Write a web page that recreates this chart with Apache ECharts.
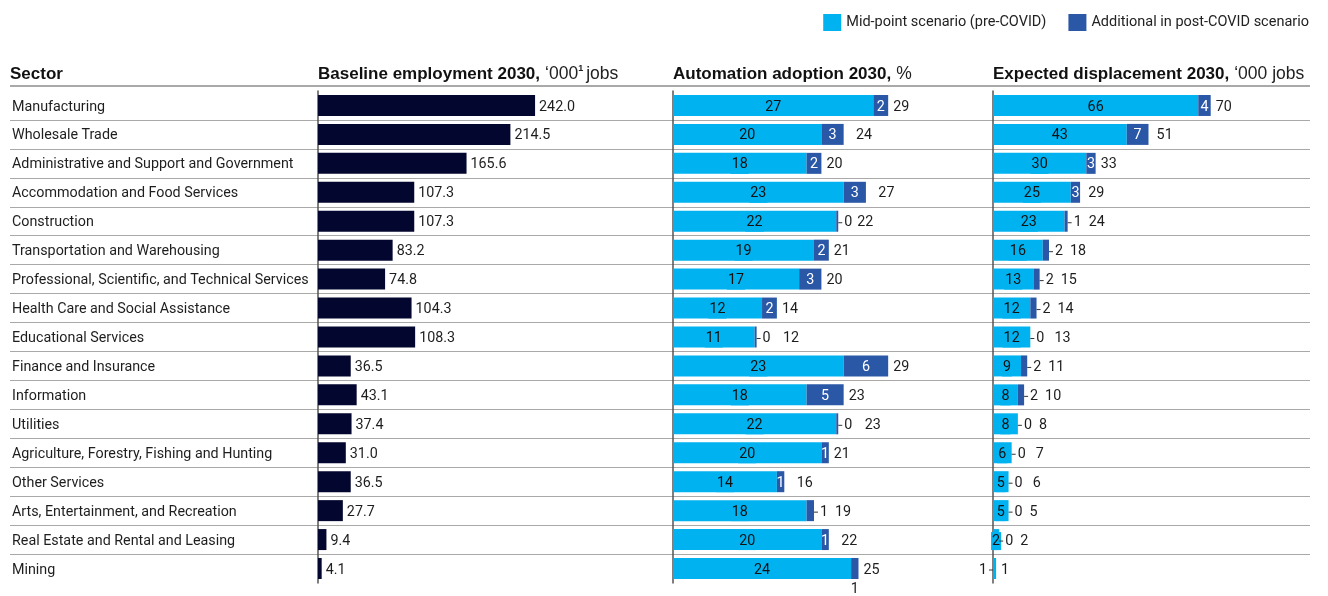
<!DOCTYPE html>
<html>
<head>
<meta charset="utf-8">
<script src="https://cdn.jsdelivr.net/npm/echarts@6/dist/echarts.min.js"></script>
<style>
  html, body { margin: 0; padding: 0; background: #fff; }
  #chart { width: 1328px; height: 596px; }
</style>
</head>
<body>
<div id="chart"></div>
<script>
// ---- data ----
const sectors = [
  'Manufacturing',
  'Wholesale Trade',
  'Administrative and Support and Government',
  'Accommodation and Food Services',
  'Construction',
  'Transportation and Warehousing',
  'Professional, Scientific, and Technical Services',
  'Health Care and Social Assistance',
  'Educational Services',
  'Finance and Insurance',
  'Information',
  'Utilities',
  'Agriculture, Forestry, Fishing and Hunting',
  'Other Services',
  'Arts, Entertainment, and Recreation',
  'Real Estate and Rental and Leasing',
  'Mining'
];
// Baseline employment 2030, '000 jobs
const baseline = [242.0, 214.5, 165.6, 107.3, 107.3, 83.2, 74.8, 104.3, 108.3, 36.5, 43.1, 37.4, 31.0, 36.5, 27.7, 9.4, 4.1];
// Automation adoption 2030, %
const autoMid   = [27, 20, 18, 23, 22, 19, 17, 12, 11, 23, 18, 22, 20, 14, 18, 20, 24];
const autoAdd   = [2, 3, 2, 3, 0, 2, 3, 2, 0, 6, 5, 0, 1, 1, 1, 1, 1];
const autoTotal = [29, 24, 20, 27, 22, 21, 20, 14, 12, 29, 23, 23, 21, 16, 19, 22, 25];
// Expected displacement 2030, '000 jobs
const dispMid   = [66, 43, 30, 25, 23, 16, 13, 12, 12, 9, 8, 8, 6, 5, 5, 2, 1];
const dispAdd   = [4, 7, 3, 3, 1, 2, 2, 2, 0, 2, 2, 0, 0, 0, 0, 0, 0];
const dispTotal = [70, 51, 33, 29, 24, 18, 15, 14, 13, 11, 10, 8, 7, 6, 5, 2, 1];

const seriesNames = ['Mid-point scenario (pre-COVID)', 'Additional in post-COVID scenario'];

// ---- styling ----
const FONT = 'Roboto, "Liberation Sans", sans-serif';
const HEAD_FONT = '"Liberation Sans", Arial, sans-serif';
const FS = 14.3;
const NAVY = '#03062e';
const CYAN = '#00b2ef';
const BLUE = '#2b58a6';
const TEXT = '#1e1e1e';
const RULE = '#a9a9a9';

const TOP = 91;            // top of first row band
const ROW = 28.94;         // height of one row band
const BAR = 21;            // bar thickness
const GRID_H = ROW * sectors.length;
const DROP = [0, 1.5];     // sets label text a touch below the row centre

// where the label of the post-COVID increment sits, by sector
const autoSpotOverride = { 'Arts, Entertainment, and Recreation': 'outside', 'Mining': 'below' };
const dispSpotOverride = { 'Mining': 'none' };

function addSpots(values, insideMin, override) {
  return values.map((v, i) => override[sectors[i]] || (v >= insideMin ? 'inside' : 'outside'));
}
const autoSpots = addSpots(autoAdd, 1, autoSpotOverride);
const dispSpots = addSpots(dispAdd, 3, dispSpotOverride);

const richTick = {
  t: { width: 4, height: 1, backgroundColor: '#333', verticalAlign: 'middle' },
  v: { fontFamily: FONT, fontSize: FS, color: TEXT, padding: [0, 0, 0, 2], verticalAlign: 'middle' },
  w: { fontFamily: FONT, fontSize: FS, color: TEXT, padding: [0, 2, 0, 0], verticalAlign: 'middle' }
};

function addSeries(name, values, spots, axis, minH) {
  return {
    name: name, type: 'bar', stack: 'p' + axis, xAxisIndex: axis, yAxisIndex: axis,
    barWidth: BAR, barMinHeight: minH, itemStyle: { color: BLUE },
    label: {
      show: true, fontFamily: FONT, fontSize: FS, rich: richTick, offset: DROP,
      formatter: p => spots[p.dataIndex] === 'outside' ? '{t|}{v|' + p.value + '}' : String(p.value)
    },
    data: values.map((v, i) => {
      const s = spots[i];
      let label;
      if (s === 'inside') label = { position: 'inside', color: '#fff' };
      else if (s === 'outside') label = { position: 'right', distance: 0 };
      else if (s === 'below') label = { position: 'bottom', distance: 2, color: TEXT };
      else label = { show: false };
      return { value: v, label: label };
    })
  };
}

function midSeries(name, values, axis, leftBelow) {
  return {
    name: name, type: 'bar', stack: 'p' + axis, xAxisIndex: axis, yAxisIndex: axis,
    barWidth: BAR, itemStyle: { color: CYAN },
    label: {
      show: true, position: 'inside', fontFamily: FONT, fontSize: FS, color: '#111',
      backgroundColor: CYAN, padding: [2, 1], rich: richTick, offset: DROP,
      formatter: p => p.value < leftBelow ? '{w|' + p.value + '}{t|}' : String(p.value)
    },
    data: values.map(v => v < leftBelow
      ? { value: v, label: { position: 'left', distance: 0, backgroundColor: 'transparent', padding: 0 } }
      : v)
  };
}

function totalSeries(values, spots, axis) {
  return {
    name: 'total', type: 'bar', xAxisIndex: axis, yAxisIndex: axis,
    barWidth: BAR, barGap: '-100%', silent: true, z: 1,
    itemStyle: { color: 'rgba(0,0,0,0)' },
    label: { show: true, position: 'right', fontFamily: FONT, fontSize: FS, color: TEXT, offset: DROP },
    data: values.map((v, i) => ({ value: v, label: { distance: spots[i] === 'outside' ? 21 : 5 } }))
  };
}

function catAxis(idx, showLabels) {
  return {
    type: 'category', gridIndex: idx, data: sectors, inverse: true,
    axisTick: { show: false },
    axisLine: { show: true, lineStyle: { color: '#555', width: 1.5 } },
    axisLabel: showLabels
      ? {
          show: true, align: 'left', margin: 306, formatter: '{n|{value}}',
          rich: { n: { fontFamily: FONT, fontSize: FS, color: TEXT, padding: [3, 0, 0, 0] } }
        }
      : { show: false },
    splitLine: { show: false }
  };
}
function valAxis(idx, max) {
  return { type: 'value', gridIndex: idx, min: 0, max: max, show: false };
}

const titleRich = {
  b: { fontFamily: HEAD_FONT, fontSize: 17, fontWeight: 'bold', color: '#111', lineHeight: 20 },
  r: { fontFamily: HEAD_FONT, fontSize: 17.5, fontWeight: 'normal', color: '#222', lineHeight: 20 },
  s: { fontFamily: HEAD_FONT, fontSize: 9, color: '#222', verticalAlign: 'top', lineHeight: 13, padding: [0, 3, 0, 0] }
};
function header(left, text) {
  return { left: left, top: 64, padding: 0, text: text, textStyle: { rich: titleRich } };
}

const chart = echarts.init(document.getElementById('chart'), null, { renderer: 'canvas' });
chart.setOption({
  animation: false,
  backgroundColor: '#fff',
  title: [
    header(10, '{b|Sector}'),
    header(318, '{b|Baseline employment 2030,} {r|\u2018000}{s|1}{r|jobs}'),
    header(673, '{b|Automation adoption 2030,} {r|%}'),
    header(993, '{b|Expected displacement 2030,} {r|\u2018000 jobs}')
  ],
  legend: {
    data: seriesNames, right: 14, top: 9, icon: 'rect', itemWidth: 18, itemHeight: 17, itemGap: 22,
    textStyle: { fontFamily: FONT, fontSize: 14.5, color: '#222' }, selectedMode: false
  },
  graphic: [{
    type: 'line', shape: { x1: 10, y1: 86, x2: 1310, y2: 86 },
    style: { stroke: RULE, lineWidth: 2 }, silent: true
  }],
  grid: [
    { left: 318, top: TOP, width: 300 * 0.897, height: GRID_H },
    { left: 673, top: TOP, width: 60 * 7.42, height: GRID_H },
    { left: 993, top: TOP, width: 100 * 3.11, height: GRID_H },
    // row separators across the full table
    { left: 10, top: TOP + ROW, width: 1300, height: ROW * (sectors.length - 2) }
  ],
  xAxis: [valAxis(0, 300), valAxis(1, 60), valAxis(2, 100), { type: 'value', gridIndex: 3, show: false, min: 0, max: 1 }],
  yAxis: [
    catAxis(0, true), catAxis(1, false), catAxis(2, false),
    {
      type: 'value', gridIndex: 3, min: 0, max: sectors.length - 2, interval: 1, inverse: true,
      axisLine: { show: false }, axisTick: { show: false }, axisLabel: { show: false },
      splitLine: { show: true, lineStyle: { color: RULE, width: 1.2 } }, z: 0
    }
  ],
  series: [
    {
      name: 'Baseline', type: 'bar', xAxisIndex: 0, yAxisIndex: 0, barWidth: BAR,
      itemStyle: { color: NAVY },
      label: {
        show: true, position: 'right', distance: 4, fontFamily: FONT, fontSize: FS, color: TEXT,
        offset: DROP, formatter: p => p.value.toFixed(1)
      },
      data: baseline
    },
    midSeries(seriesNames[0], autoMid, 1, 0),
    addSeries(seriesNames[1], autoAdd, autoSpots, 1, 2),
    totalSeries(autoTotal, autoSpots, 1),
    midSeries(seriesNames[0], dispMid, 2, 2),
    addSeries(seriesNames[1], dispAdd, dispSpots, 2, 0),
    totalSeries(dispTotal, dispSpots, 2)
  ]
});
</script>
</body>
</html>
